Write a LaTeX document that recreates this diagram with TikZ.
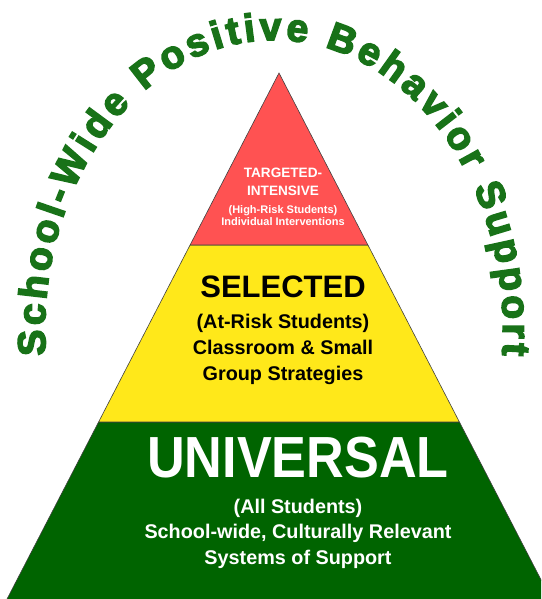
\documentclass[tikz,border=0pt]{standalone}
\usepackage{fontspec}
\usepackage{graphicx}
\setmainfont{Liberation Sans}
\newfontfamily\arcfont{Liberation Sans}[FakeBold=4]
\usetikzlibrary{decorations.text}
\definecolor{tierred}{RGB}{255,82,82}
\definecolor{tieryellow}{RGB}{255,232,26}
\definecolor{tiergreen}{RGB}{0,100,0}
\definecolor{arcgreen}{RGB}{24,114,24}
\tikzset{
  tier/.style={draw=black!75, line width=0.6pt},
  lbl/.style={anchor=base, inner sep=0pt, font=\bfseries},
  wlbl/.style={lbl, text=white},
  blbl/.style={lbl, text=black}
}
\newcommand{\fsz}[1]{\fontsize{#1}{#1}\selectfont}
\begin{document}
\begin{tikzpicture}[x=1pt,y=1pt]
\useasboundingbox (0,0) rectangle (541,599);
\clip (0,0) rectangle (541,599);
% pyramid corners
\coordinate (apex) at (279,526);
\coordinate (rl) at (190.1,354);
\coordinate (rr) at (367.9,354);
\coordinate (yl) at (98.6,177);
\coordinate (yr) at (459.4,177);
\coordinate (gl) at (-3.3,-20);
\coordinate (gr) at (561.3,-20);
% tiers
\path[tier, fill=tiergreen] (yl) -- (yr) -- (gr) -- (gl) -- cycle;
\path[tier, fill=tieryellow] (rl) -- (rr) -- (yr) -- (yl) -- cycle;
\path[tier, fill=tierred] (apex) -- (rr) -- (rl) -- cycle;
% arc title
\path[decorate, decoration={text along path,
  text={|\arcfont\bfseries\fsz{39}|School-Wide Positive Behavior Support},
  text color=arcgreen, text align={fit to path}}]
  (45.9,243.7) arc[start angle=185, end angle=-5, x radius=229, y radius=290];
% targeted
\node[wlbl, font=\bfseries\fsz{13.6}] (t1) at (283,421) {TARGETED-};
\node[wlbl, font=\bfseries\fsz{13.6}] (t2) at (283,403.3) {INTENSIVE};
\node[wlbl, font=\bfseries\fsz{11}] (t3) at (283,385) {(High-Risk Students)};
\node[wlbl, font=\bfseries\fsz{11}] (t4) at (283,373.3) {Individual Interventions};
% selected
\node[blbl, font=\bfseries\fsz{31}] (s1) at (283,301.7) {SELECTED};
\node[blbl, font=\bfseries\fsz{19.8}] (s2) at (283,270) {(At-Risk Students)};
\node[blbl, font=\bfseries\fsz{19.8}] (s3) at (283,244) {Classroom \& Small};
\node[blbl, font=\bfseries\fsz{19.8}] (s4) at (283,218.3) {Group Strategies};
% universal
\node[wlbl, font=\bfseries\fsz{58}] (u1) at (298,121.7) {\scalebox{0.9}[1]{UNIVERSAL}};
\node[wlbl, font=\bfseries\fsz{19.8}] (u2) at (298,85.7) {(All Students)};
\node[wlbl, font=\bfseries\fsz{19.8}] (u3) at (298,60.7) {School-wide, Culturally Relevant};
\node[wlbl, font=\bfseries\fsz{19.8}] (u4) at (298,34.7) {Systems of Support};
\end{tikzpicture}
\end{document}
